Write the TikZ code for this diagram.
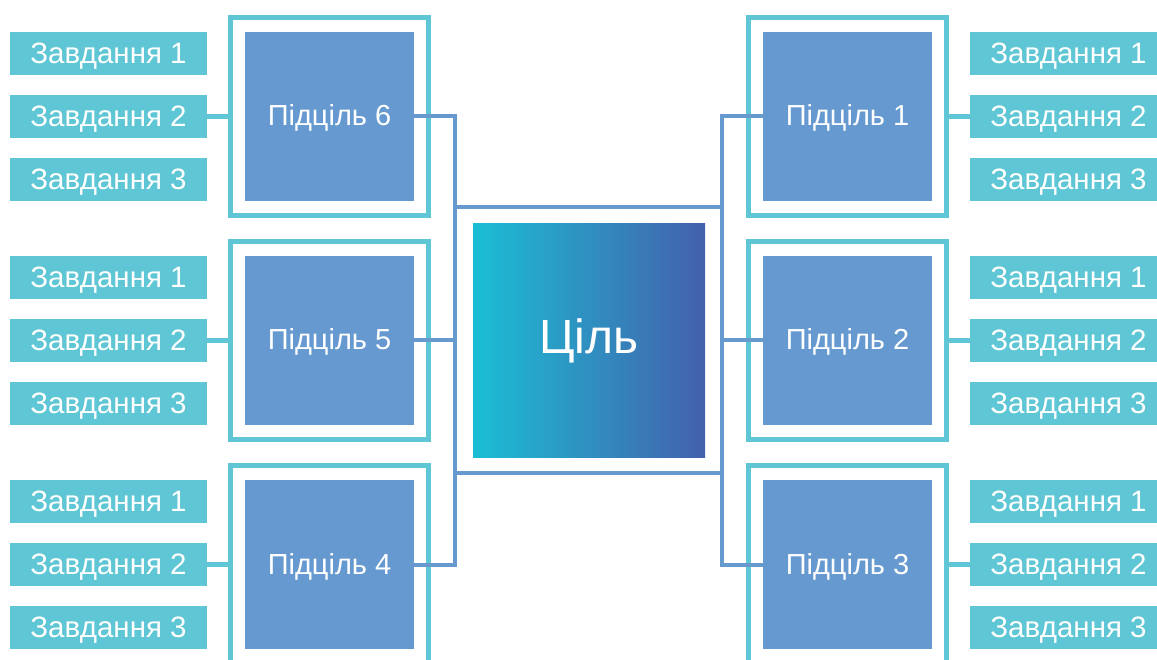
\documentclass[tikz,border=0pt]{standalone}
\usepackage{fontspec}
\setmainfont{Liberation Sans}
\definecolor{tealc}{RGB}{94,198,212}
\definecolor{subc}{RGB}{101,153,207}
\definecolor{linec}{RGB}{102,153,206}
\definecolor{gl}{RGB}{27,190,213}
\definecolor{gm}{RGB}{44,152,196}
\definecolor{gr}{RGB}{68,96,171}
\tikzset{
  task/.style={fill=tealc, text=white, minimum width=197pt, minimum height=43pt, inner sep=0pt, outer sep=0pt, text height=20pt, text depth=0pt, font=\fontsize{29.5}{30}\selectfont},
  subbox/.style={fill=subc, text=white, minimum width=169pt, minimum height=169pt, inner sep=0pt, outer sep=0pt, text height=19pt, text depth=0pt, font=\fontsize{29}{30}\selectfont},
  framebox/.style={draw=tealc, line width=5pt, minimum width=198pt, minimum height=198pt, inner sep=0pt, outer sep=0pt},
  tlink/.style={draw=tealc, line width=4.5pt},
  blink/.style={draw=linec, line width=4pt},
}
\begin{document}
\begin{tikzpicture}[x=1pt,y=-1pt]
\useasboundingbox (0,0) rectangle (1157,660);
\clip (0,0) rectangle (1157,660);
% central frame and goal
\node[blink, minimum width=267pt, minimum height=266pt, inner sep=0pt, outer sep=0pt] (gf) at (588.5,340) {};
\node[left color=gl, middle color=gm, right color=gr, text=white, minimum width=232pt, minimum height=233pt, inner sep=0pt, outer sep=0pt, text height=27pt, text depth=0pt, font=\fontsize{48}{50}\selectfont] (goal) at (589,340.5) {Ціль};
% left side
\foreach \r/\y in {6/116.5,5/340.5,4/564.5} {
  \node[framebox] (f\r) at (329.5,\y) {};
  \node[subbox] (s\r) at (329.5,\y) {Підціль \r};
  \node[task] (t\r a) at (108.5,\y-63) {Завдання 1};
  \node[task] (t\r b) at (108.5,\y) {Завдання 2};
  \node[task] (t\r c) at (108.5,\y+63) {Завдання 3};
  \draw[tlink] (t\r b.east) -- (f\r.west);
}
% right side
\foreach \r/\y in {1/116.5,2/340.5,3/564.5} {
  \node[framebox] (f\r) at (847.5,\y) {};
  \node[subbox] (s\r) at (847.5,\y) {Підціль \r};
  \node[task] (t\r a) at (1068.5,\y-63) {Завдання 1};
  \node[task] (t\r b) at (1068.5,\y) {Завдання 2};
  \node[task] (t\r c) at (1068.5,\y+63) {Завдання 3};
  \draw[tlink] (f\r.east) -- (t\r b.west);
}
% blue connectors
\draw[blink] (s6.east) -| (gf.west |- s4.east) -- (s4.east);
\draw[blink] (s5.east) -- (gf.west |- s5.east);
\draw[blink] (s1.west) -| (gf.east |- s3.west) -- (s3.west);
\draw[blink] (s2.west) -- (gf.east |- s2.west);
\end{tikzpicture}
\end{document}
